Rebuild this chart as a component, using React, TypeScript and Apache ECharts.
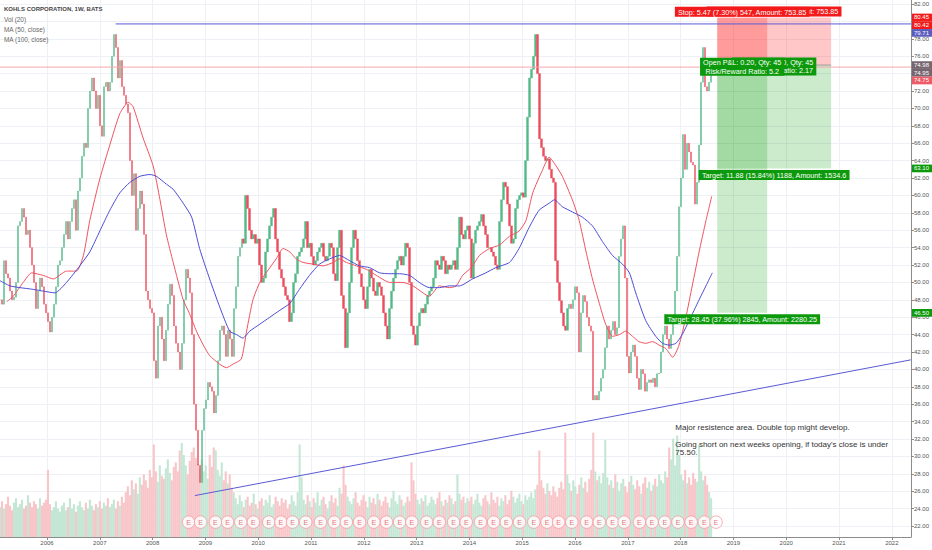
import React, { useEffect, useRef } from "react";
import * as echarts from "echarts";

// ---- time sampling of the price trace (two-week steps) ----
const START_YEAR = 2005.11;
const STEP_YEARS = 0.037831;

// closes, 2005 -> end of 2013
const CLOSE_2005_2013 = [
  48.0, 47.5, 52.5, 51.0, 50.5, 49.0, 48.0, 48.3, 50.0, 56.5,
  57.0, 58.5, 57.5, 55.5, 56.0, 54.0, 52.0, 50.0, 47.0, 49.0,
  50.5, 49.5, 47.5, 46.5, 45.5, 44.3, 46.0, 47.5, 49.5, 52.0,
  52.5, 54.0, 55.5, 57.0, 55.0, 57.0, 58.5, 59.5, 56.0, 60.5,
  62.0, 64.5, 66.0, 65.5, 70.0, 72.0, 73.5, 72.0, 70.0, 71.5,
  68.0, 66.8, 72.5, 73.0, 72.0, 73.0, 76.0, 78.5, 77.0, 73.5,
  75.5, 72.5, 71.5, 70.5, 69.5, 64.0, 60.0, 62.5, 56.0, 58.5,
  60.5, 59.0, 55.5, 49.0, 48.0, 47.0, 46.5, 41.0, 39.0, 45.0,
  46.0, 43.5, 41.0, 44.5, 47.5, 49.8, 48.5, 45.0, 43.0, 42.0,
  40.0, 43.0, 48.0, 51.5, 50.5, 48.8, 44.0, 36.0, 33.0, 29.0,
  27.0, 33.0, 35.5, 36.5, 38.5, 38.0, 37.5, 35.0, 37.0, 41.0,
  44.5, 45.0, 44.0, 41.5, 44.5, 43.5, 41.5, 47.0, 49.5, 53.0,
  54.0, 55.0, 54.5, 60.0, 58.5, 56.0, 55.0, 55.5, 54.5, 55.0,
  52.0, 50.0, 50.5, 53.5, 55.0, 56.5, 57.5, 58.5, 55.0, 53.5,
  51.5, 50.5, 49.5, 48.5, 48.0, 45.5, 46.5, 50.0, 51.0, 53.0,
  53.5, 54.0, 55.0, 57.0, 54.0, 54.5, 53.0, 52.0, 52.5, 53.5,
  54.0, 54.5, 53.0, 52.5, 53.0, 54.5, 54.0, 51.0, 50.2, 54.0,
  56.0, 48.5, 47.0, 42.5, 46.5, 50.0, 54.0, 56.0, 55.0, 52.5,
  51.0, 49.5, 48.0, 47.0, 49.5, 51.5, 50.5, 49.0, 48.5, 50.0,
  49.5, 48.5, 46.5, 45.0, 43.5, 47.0, 49.0, 50.5, 51.5, 52.5,
  53.0, 52.0, 53.0, 54.5, 54.0, 50.0, 45.0, 44.0, 42.8, 45.0,
  46.5, 47.0, 46.5, 47.5, 48.5, 49.0, 49.5, 50.5, 52.5, 52.0,
  51.5, 53.0, 52.5, 51.0, 52.0, 51.5, 52.0, 52.5, 51.5, 54.0,
  57.5, 55.5, 55.0, 56.0, 56.5,
];

// closes, 2014 -> mid 2018
const CLOSE_2014_2018 = [
  55.0, 50.5, 54.5, 56.0, 56.5, 57.0, 57.8, 56.5, 55.5, 54.0,
  54.0, 53.5, 53.0, 52.0, 51.5, 57.0, 59.5, 61.5, 61.0, 59.0,
  56.5, 54.5, 55.0, 58.5, 59.5, 60.0, 60.3, 59.8, 64.0, 69.0,
  73.5, 74.5, 76.0, 78.5, 74.0, 66.5, 65.5, 64.5, 64.0, 64.2,
  63.0, 62.0, 61.5, 52.5, 50.0, 47.9, 46.5, 45.0, 44.5, 47.0,
  47.5, 47.0, 48.0, 49.5, 48.8, 42.0, 46.5, 48.5, 47.8, 46.0,
  45.0, 44.4, 36.5, 37.0, 36.5, 37.5, 39.0, 40.0, 42.5, 45.0,
  43.5, 44.5, 45.5, 44.0, 44.8, 53.0, 55.0, 56.5, 50.5, 41.5,
  39.6, 42.0, 42.8, 41.5, 39.0, 37.7, 40.0, 39.5, 37.5, 38.5,
  38.8, 38.5, 39.0, 38.0, 39.5, 39.6, 42.0, 44.0, 45.0, 43.5,
  42.4, 44.0, 46.0, 49.0, 53.0, 58.7, 62.0, 67.0, 63.0, 66.0,
  65.0, 63.8, 63.5, 59.0, 61.5, 65.8, 73.0, 77.0, 72.5, 72.0,
  73.0, 74.95,
];

// volume (millions), same sampling
const VOLUME_2005_2013 = [
  20, 24, 19, 22, 27, 21, 18, 23, 26, 20, 22, 25, 19, 21, 28, 23, 20, 24, 22, 19, 26, 21, 23, 25,
  45,
  22, 18, 20, 24, 19, 17, 21, 23, 18, 20, 26, 19, 22, 17, 21, 24, 20, 18, 23, 19,
  25, 21, 18, 22, 20, 24, 19, 23, 21, 26, 20, 22, 25, 19, 24, 21, 27, 23,
  30, 34, 28, 38, 32, 36, 29, 40,
  35, 42, 38, 33, 45, 40, 62, 44, 37, 48, 41, 39, 46, 52, 43, 38, 47, 50, 44, 58,
  63, 55, 48, 42, 51, 57, 60, 53, 49, 46,
  52, 44, 48, 39, 55, 47, 60, 58, 45, 41, 50, 38, 44, 36, 42, 33, 30,
  26, 22, 28, 24, 20, 25, 27, 21, 23, 29, 22, 19, 24, 26, 21, 25, 23, 28, 20, 22,
  27, 24, 21, 26, 23, 25, 19, 22, 28, 24, 21, 30,
  62, 40,
  25, 22, 28, 24, 20, 26, 23, 30, 21, 25, 27, 22, 19, 24, 28, 23, 26, 21, 33, 29,
  48, 35, 27, 24, 22, 26, 30, 23, 21, 25, 28, 24, 20, 27, 23, 26, 22, 29, 25, 21,
  24, 27, 23, 20, 26, 31, 24, 22, 28, 25, 21, 23, 27, 24, 50, 38, 29, 25, 22, 26,
  24, 28, 21, 23, 27, 25, 22, 26, 30, 24, 21, 25, 23, 28, 26, 22, 24, 42, 29, 25,
  27, 23, 26,
];
const VOLUME_2014_2018 = [
  24, 27, 22, 25, 29, 23, 21, 26, 28, 24, 22, 30, 25, 23, 27, 21, 26, 24, 28, 22,
  25, 31, 27, 23, 26, 29, 24, 22, 28, 25, 27, 30, 26, 32, 35,
  58,
  38, 33, 29, 36, 31, 28, 34, 30, 27, 33, 37, 32,
  70,
  42, 36, 31, 38, 34, 29, 35, 40, 33, 37, 30, 39, 45,
  70,
  44, 38, 41, 36, 43,
  65,
  40, 35, 38, 33, 42, 37, 31, 36, 39, 34, 30, 37, 41, 35, 32, 38, 34, 29, 36, 40,
  33, 37, 31, 35, 39, 34, 42, 38, 36, 44, 40,
  60, 52, 66, 48, 68, 55,
  42, 38, 45, 36, 40, 35, 43, 39, 37,
  62,
  44, 38, 41, 35, 30, 26,
];

// moving averages: [year, price]
const MA50_POINTS = [
  [2005.24, 47.8], [2005.36, 48.4], [2005.55, 50.0], [2005.71, 51.1], [2005.93, 50.8], [2006.12, 50.4],
  [2006.37, 51.3], [2006.56, 51.3], [2006.69, 53.1], [2006.81, 57.1], [2007.0, 61.9], [2007.19, 65.8],
  [2007.38, 69.4], [2007.54, 70.7], [2007.63, 70.2], [2007.82, 66.6], [2008.01, 63.4], [2008.14, 59.5],
  [2008.26, 55.5], [2008.39, 52.3], [2008.58, 48.0], [2008.7, 46.4], [2008.83, 44.4], [2008.96, 42.8],
  [2009.08, 41.6], [2009.27, 40.6], [2009.4, 40.2], [2009.52, 40.6], [2009.68, 41.2], [2009.78, 44.4],
  [2009.9, 48.0], [2010.03, 50.0], [2010.15, 51.1], [2010.34, 52.7], [2010.47, 53.9], [2010.6, 53.5],
  [2010.72, 52.7], [2010.85, 52.3], [2011.04, 52.1], [2011.23, 51.9], [2011.42, 52.3], [2011.54, 52.7],
  [2011.67, 52.3], [2011.86, 51.9], [2012.05, 51.5], [2012.24, 50.8], [2012.49, 50.0], [2012.74, 50.0],
  [2012.93, 49.6], [2013.12, 48.8], [2013.24, 48.4], [2013.31, 48.8], [2013.43, 49.6], [2013.62, 49.4],
  [2013.75, 49.6], [2013.87, 50.8], [2014.0, 51.5], [2014.06, 51.9], [2014.19, 53.1], [2014.38, 53.9],
  [2014.57, 54.3], [2014.76, 55.3], [2014.94, 55.9], [2015.07, 57.1], [2015.2, 60.3], [2015.39, 63.0],
  [2015.51, 64.4], [2015.64, 63.4], [2015.76, 62.2], [2015.95, 59.5], [2016.08, 57.1], [2016.21, 53.5],
  [2016.33, 50.4], [2016.46, 47.6], [2016.58, 45.2], [2016.71, 43.8], [2016.84, 44.0], [2016.96, 44.4],
  [2017.09, 43.8], [2017.21, 43.2], [2017.34, 43.0], [2017.47, 43.2], [2017.59, 42.8], [2017.72, 42.4],
  [2017.85, 41.4], [2017.97, 42.8], [2018.1, 46.0], [2018.22, 49.6], [2018.35, 53.5], [2018.48, 57.1],
  [2018.59, 59.9],
];
const MA100_POINTS = [
  [2005.11, 50.2], [2005.3, 49.6], [2005.49, 49.4], [2005.74, 49.2], [2005.93, 49.0], [2006.15, 48.8],
  [2006.37, 50.0], [2006.62, 51.9], [2006.81, 53.5], [2007.0, 55.9], [2007.19, 58.3], [2007.38, 60.3],
  [2007.57, 61.5], [2007.76, 62.2], [2007.95, 62.4], [2008.07, 62.2], [2008.26, 61.3], [2008.39, 60.7],
  [2008.58, 59.1], [2008.74, 57.5], [2008.89, 53.9], [2009.08, 50.4], [2009.27, 47.2], [2009.46, 44.4],
  [2009.59, 44.0], [2009.71, 43.6], [2009.84, 44.4], [2010.03, 45.2], [2010.22, 46.0], [2010.41, 46.8],
  [2010.6, 47.6], [2010.78, 49.2], [2010.97, 50.8], [2011.16, 52.1], [2011.35, 52.7], [2011.54, 53.1],
  [2011.73, 52.5], [2011.92, 51.9], [2012.11, 51.7], [2012.3, 51.1], [2012.49, 51.0], [2012.68, 51.0],
  [2012.87, 50.8], [2013.05, 50.0], [2013.24, 49.4], [2013.43, 49.4], [2013.62, 49.6], [2013.81, 49.6],
  [2014.06, 50.4], [2014.31, 51.1], [2014.5, 51.7], [2014.76, 52.3], [2014.94, 53.9], [2015.13, 56.3],
  [2015.32, 58.3], [2015.51, 59.1], [2015.61, 59.5], [2015.76, 58.7], [2015.95, 58.1], [2016.14, 57.5],
  [2016.33, 56.5], [2016.52, 54.7], [2016.71, 53.1], [2016.9, 52.1], [2017.03, 51.1], [2017.15, 48.8],
  [2017.34, 45.6], [2017.53, 43.8], [2017.66, 43.0], [2017.78, 42.8], [2017.91, 43.0], [2018.03, 44.0],
  [2018.16, 45.6], [2018.35, 48.0], [2018.48, 49.6], [2018.6, 51.1],
];

// earnings markers
const EARNINGS_DATES = [
  2008.68, 2008.91, 2009.19, 2009.42, 2009.67, 2009.91, 2010.2, 2010.43, 2010.65, 2010.9,
  2011.18, 2011.44, 2011.67, 2011.92, 2012.19, 2012.43, 2012.68, 2012.91, 2013.19, 2013.43,
  2013.7, 2013.94, 2014.21, 2014.46, 2014.7, 2014.95, 2015.22, 2015.47, 2015.69, 2015.94,
  2016.22, 2016.46, 2016.71, 2016.93, 2017.22, 2017.46, 2017.7, 2017.95, 2018.2, 2018.45,
  2018.67,
];
const EARNINGS_LANE = 22.45;

// axes
const X_MIN = 2005.11;
const X_MAX = 2022.363;
const Y_MIN = 20.74;
const Y_MAX = 82.46;
const X_TICKS = [2006, 2007, 2008, 2009, 2010, 2011, 2012, 2013, 2014, 2015, 2016, 2017, 2018, 2019, 2020, 2021, 2022];
const Y_TICKS = [22, 24, 26, 28, 30, 32, 34, 36, 38, 40, 42, 44, 46, 48, 50, 52, 54, 56, 58, 60, 62, 64, 66, 68, 70, 72, 74, 76, 78, 80, 82];
const VOLUME_AXIS_MAX = 360;

// drawings
const RESISTANCE_FROM = 2007.3;
const RESISTANCE_PRICE = 79.71;
const ALERT_PRICE = 74.75;
const TREND_LINE = [[2008.8, 25.5], [2022.36, 41.1]];

// two short-position tools
const POS_FROM = [2018.693, 2018.693];
const POS_TO = [2019.64, 2020.85];
const POS_ENTRY = [74.95, 74.98];
const POS_STOP = [80.42, 80.45];
const POS_TARGET = [46.5, 63.1];
const STOP_TEXT = ["Stop: 5.47 (7.30%) 547, Amount: 753.85", "Stop: 5.47 (7.30%) 547, Amount: 753.85"];
const PL_TEXT = ["Open P&L: 0.20, Qty: 45\nRisk/Reward Ratio: 5.2", "Open P&L: 0.20, Qty: 45\nRisk/Reward Ratio: 2.17"];
const TARGET_TEXT = ["Target: 28.45 (37.96%) 2845, Amount: 2280.25", "Target: 11.88 (15.84%) 1188, Amount: 1534.6"];

// price tags on the axis
const TAG_PRICES = [80.45, 80.42, 79.71, 74.98, 74.95, 74.75, 63.1, 46.5];
const TAG_COLORS = ["#f21a1a", "#f21a1a", "#5c5cbf", "#77666f", "#77666f", "#ee5a66", "#0c9a0c", "#0c9a0c"];

const LEGEND_LINES = ["KOHLS CORPORATION, 1W, BATS", "Vol (20)", "MA (50, close)", "MA (100, close)"];
const NOTE_LINES = ["Major resistence area. Double top might develop.", "Going short on next weeks opening, if today's close is under", "75.50."];
const NOTE_ANCHOR = [2017.9, 33.3];

const FONT = '"Liberation Sans", Arial, sans-serif';
const UP = "#53b987";
const DOWN = "#eb4d5c";

export default function App() {
  const ref = useRef<HTMLDivElement>(null);

  useEffect(() => {
    document.body.style.margin = "0";
    if (!ref.current) return;
    const chart = echarts.init(ref.current, undefined, { renderer: "svg" });

    const closes = [...CLOSE_2005_2013, ...CLOSE_2014_2018];
    const volumes = [...VOLUME_2005_2013, ...VOLUME_2014_2018];
    const times = closes.map((_, i) => START_YEAR + i * STEP_YEARS);
    const candles = closes.map((c, i) => {
      const o = i > 0 ? closes[i - 1] : c;
      return [times[i], o, c, Math.min(o, c), Math.max(o, c)];
    });
    const volData = times.map((t, i) => {
      const up = candles[i][2] >= candles[i][1];
      return { value: [t, volumes[i] ?? 0], itemStyle: { color: up ? "#c4e7d5" : "#f8c5c9" } };
    });

    const boxes: number[][] = [];
    for (let k = 0; k < POS_FROM.length; k++) {
      boxes.push([POS_FROM[k], POS_ENTRY[k], POS_TO[k], POS_STOP[k], 0]);
      boxes.push([POS_FROM[k], POS_ENTRY[k], POS_TO[k], POS_TARGET[k], 1]);
    }

    const simpleLine = (data: number[][], color: string, extra: any = {}) => ({
      type: "line",
      data,
      symbol: "none",
      silent: true,
      lineStyle: { color, width: 1 },
      z: 6,
      ...extra,
    });

    const option: any = {
      animation: false,
      backgroundColor: "#ffffff",
      textStyle: { fontFamily: FONT },
      grid: { left: 0, right: 20, top: 0, bottom: 13, containLabel: false },
      xAxis: {
        type: "value",
        min: X_MIN,
        max: X_MAX,
        axisLine: { show: true, onZero: false, lineStyle: { color: "#8c8c8c" } },
        axisTick: { show: true, length: 3, customValues: X_TICKS, lineStyle: { color: "#8c8c8c" } },
        axisLabel: {
          customValues: X_TICKS,
          formatter: (v: number) => String(Math.round(v)),
          fontSize: 6,
          color: "#555",
          margin: 3,
          fontFamily: FONT,
        },
        splitLine: { show: true, lineStyle: { color: "#edf1f6", width: 1 } },
      },
      yAxis: [
        {
          type: "value",
          position: "right",
          min: Y_MIN,
          max: Y_MAX,
          axisLine: { show: true, onZero: false, lineStyle: { color: "#8c8c8c" } },
          axisTick: { show: true, length: 3, customValues: Y_TICKS, lineStyle: { color: "#8c8c8c" } },
          axisLabel: {
            customValues: Y_TICKS,
            formatter: (v: number) => v.toFixed(2),
            fontSize: 6,
            color: "#555",
            margin: 3,
            fontFamily: FONT,
          },
          splitLine: { show: true, lineStyle: { color: "#edf1f6", width: 1 } },
        },
        { type: "value", min: 0, max: VOLUME_AXIS_MAX, show: false, splitLine: { show: false } },
      ],
      series: [
        {
          name: "Vol",
          type: "bar",
          yAxisIndex: 1,
          data: volData,
          barWidth: 2.1,
          silent: true,
          z: 1,
        },
        {
          name: "positions",
          type: "custom",
          silent: true,
          z: 2,
          encode: { x: [0, 2], y: [1, 3] },
          data: boxes,
          renderItem: (_p: any, api: any) => {
            const a = api.coord([api.value(0), api.value(1)]);
            const b = api.coord([api.value(2), api.value(3)]);
            const green = api.value(4) === 1;
            return {
              type: "rect",
              shape: {
                x: Math.min(a[0], b[0]),
                y: Math.min(a[1], b[1]),
                width: Math.abs(b[0] - a[0]),
                height: Math.abs(b[1] - a[1]),
              },
              style: { fill: green ? "rgba(0,150,0,0.2)" : "rgba(255,0,0,0.22)" },
            };
          },
        },
        {
          name: "KSS",
          type: "candlestick",
          data: candles,
          encode: { x: 0, y: [1, 2, 3, 4] },
          barWidth: 1.9,
          silent: true,
          z: 3,
          itemStyle: { color: UP, color0: DOWN, borderColor: UP, borderColor0: DOWN, borderWidth: 0.4 },
        },
        simpleLine(MA50_POINTS, "#f0535f", { smooth: 0.2, z: 5 }),
        simpleLine(MA100_POINTS, "#4c4cd6", { smooth: 0.2, z: 5 }),
        simpleLine([[RESISTANCE_FROM, RESISTANCE_PRICE], [X_MAX, RESISTANCE_PRICE]], "#5a5ad4"),
        simpleLine([[X_MIN, ALERT_PRICE], [X_MAX, ALERT_PRICE]], "#f6a5ad"),
        simpleLine(TREND_LINE, "#5a5ad4"),
        simpleLine([[POS_FROM[0], POS_ENTRY[0]], [POS_TO[0], POS_ENTRY[0]]], "#9a9a9a"),
        simpleLine([[POS_FROM[1], POS_ENTRY[1]], [POS_TO[1], POS_ENTRY[1]]], "#9a9a9a"),
        {
          name: "Earnings",
          type: "scatter",
          silent: true,
          z: 8,
          data: EARNINGS_DATES.map((t) => [t, EARNINGS_LANE]),
          symbol: "circle",
          symbolSize: 12.5,
          itemStyle: { color: "#ffffff", borderColor: "#f49aa3", borderWidth: 1 },
          label: { show: true, formatter: "E", position: "inside", fontSize: 7, color: "#e0505e", fontFamily: FONT },
        },
      ],
    };

    chart.setOption(option);

    const px = (t: number, v: number) =>
      chart.convertToPixel({ xAxisIndex: 0, yAxisIndex: 0 }, [t, v]) as unknown as number[];

    const g: any[] = [];
    const labelFont = `7.2px ${FONT}`;

    // legend
    LEGEND_LINES.forEach((txt, i) => {
      g.push({
        type: "text",
        x: 4,
        y: 9 + i * 10,
        z: 50,
        style: {
          text: txt,
          fill: i === 0 ? "#454545" : "#666666",
          font: i === 0 ? `bold 6px ${FONT}` : `6.4px ${FONT}`,
          align: "left",
          verticalAlign: "middle",
        },
      });
    });

    // note
    const na = px(NOTE_ANCHOR[0], NOTE_ANCHOR[1]);
    const noteOffsets = [0, 16.5, 24.5];
    NOTE_LINES.forEach((txt, i) => {
      g.push({
        type: "text",
        x: na[0],
        y: na[1] + noteOffsets[i],
        z: 50,
        style: { text: txt, fill: "#333333", font: `8px ${FONT}`, align: "left", verticalAlign: "middle" },
      });
    });

    // position tool labels (second tool drawn first so the first sits on top)
    const order = [1, 0];
    order.forEach((k) => {
      const top = px(POS_FROM[k], POS_STOP[k]);
      const right = px(POS_TO[k], POS_STOP[k]);
      const cx = (top[0] + right[0]) / 2;
      g.push({
        type: "text",
        x: cx,
        y: top[1] - 1,
        z: 60,
        style: {
          text: STOP_TEXT[k],
          fill: "#ffffff",
          font: labelFont,
          align: "center",
          verticalAlign: "bottom",
          backgroundColor: "#f21a1a",
          padding: [2, 3, 1, 3],
        },
      });
    });
    order.forEach((k) => {
      const e = px(POS_FROM[k], POS_ENTRY[k]);
      const r = px(POS_TO[k], POS_ENTRY[k]);
      const cx = (e[0] + r[0]) / 2;
      g.push({
        type: "text",
        x: cx,
        y: e[1] + 1.5,
        z: 60,
        style: {
          text: PL_TEXT[k],
          fill: "#ffffff",
          font: labelFont,
          lineHeight: 8.5,
          align: "center",
          verticalAlign: "middle",
          backgroundColor: "#0c9a0c",
          padding: [1, 3, 0, 3],
        },
      });
    });
    order.forEach((k) => {
      const b = px(POS_FROM[k], POS_TARGET[k]);
      const r = px(POS_TO[k], POS_TARGET[k]);
      const cx = (b[0] + r[0]) / 2;
      g.push({
        type: "text",
        x: cx,
        y: b[1] + 1.5,
        z: 60,
        style: {
          text: TARGET_TEXT[k],
          fill: "#ffffff",
          font: labelFont,
          align: "center",
          verticalAlign: "top",
          backgroundColor: "#0c9a0c",
          padding: [2, 3, 1, 3],
        },
      });
    });

    // price tags on the right axis, stacked to avoid overlap
    const axisX = px(X_MAX, 50)[0];
    let prevY = -Infinity;
    const TAG_H = 7.7;
    TAG_PRICES.forEach((p, i) => {
      const natural = px(X_MAX, p)[1];
      const y = Math.max(natural, prevY + TAG_H);
      prevY = y;
      g.push({
        type: "rect",
        z: 70,
        shape: { x: axisX + 1, y: y - TAG_H / 2, width: 22, height: TAG_H },
        style: { fill: TAG_COLORS[i] },
      });
      g.push({
        type: "text",
        z: 71,
        x: axisX + 3,
        y: y,
        style: { text: p.toFixed(2), fill: "#ffffff", font: `6px ${FONT}`, align: "left", verticalAlign: "middle" },
      });
    });

    chart.setOption({ graphic: g });

    return () => {
      chart.dispose();
    };
  }, []);

  return <div ref={ref} style={{ width: 932, height: 550 }} />;
}
